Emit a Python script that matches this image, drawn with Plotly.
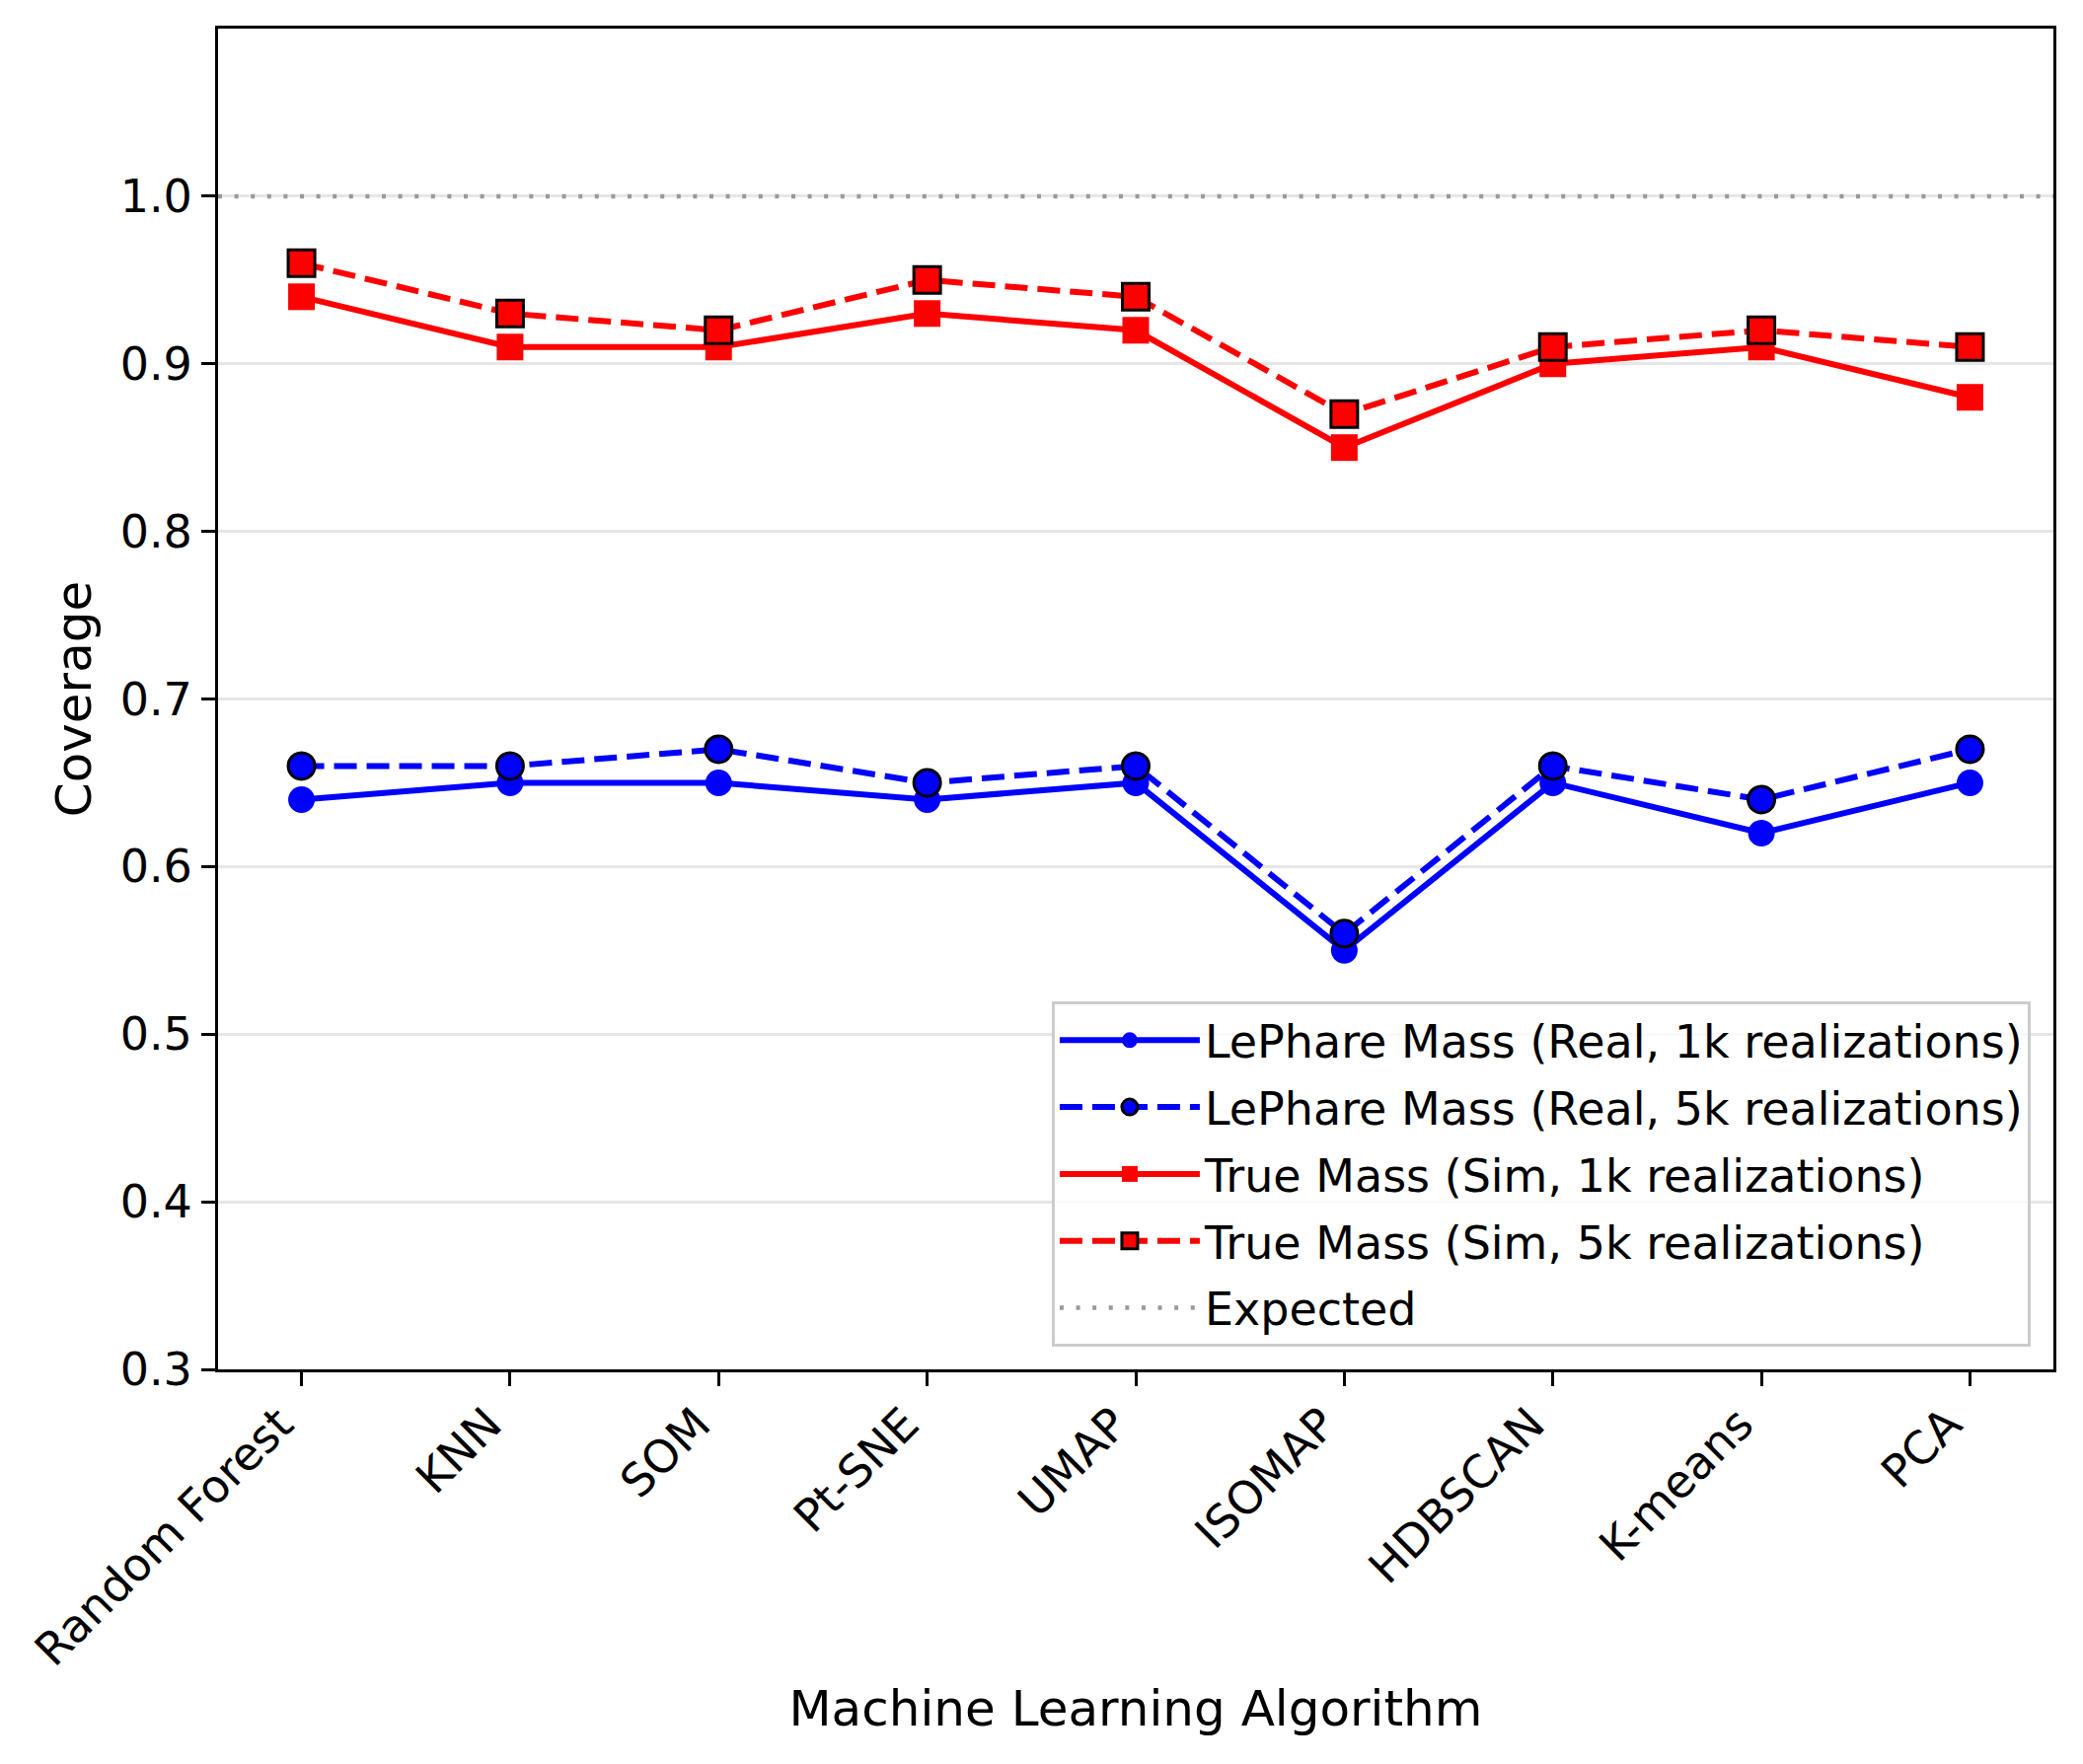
import plotly.graph_objects as go

# --- data ---
algorithms = ["Random Forest", "KNN", "SOM", "Pt-SNE", "UMAP",
              "ISOMAP", "HDBSCAN", "K-means", "PCA"]
lephare_1k = [0.64, 0.65, 0.65, 0.64, 0.65, 0.55, 0.65, 0.62, 0.65]
lephare_5k = [0.66, 0.66, 0.67, 0.65, 0.66, 0.56, 0.66, 0.64, 0.67]
true_1k = [0.94, 0.91, 0.91, 0.93, 0.92, 0.85, 0.90, 0.91, 0.88]
true_5k = [0.96, 0.93, 0.92, 0.95, 0.94, 0.87, 0.91, 0.92, 0.91]
expected = 1.0
y_ticks = [0.3, 0.4, 0.5, 0.6, 0.7, 0.8, 0.9, 1.0]

FONT = "DejaVu Sans"
FS = 46        # ticks / legend
FS_TITLE = 50  # axis titles
DASH = "23px,10px"

fig = go.Figure()


def add_series(y, name, color, symbol, dashed, group):
    fig.add_trace(go.Scatter(
        x=algorithms, y=y, name=name, mode="lines+markers",
        legendgroup=group,
        line=dict(color=color, width=6, dash=DASH if dashed else "solid"),
        marker=dict(symbol=symbol, size=27, color=color,
                    line=dict(color="black", width=3 if dashed else 0)),
    ))


add_series(lephare_1k, "LePhare Mass (Real, 1k realizations)", "blue", "circle", False, "a")
add_series(lephare_5k, "LePhare Mass (Real, 5k realizations)", "blue", "circle", True, "b")
add_series(true_1k, "True Mass (Sim, 1k realizations)", "red", "square", False, "c")
add_series(true_5k, "True Mass (Sim, 5k realizations)", "red", "square", True, "d")

# expected coverage line
fig.add_shape(type="line", xref="paper", x0=0, x1=1, y0=expected, y1=expected,
              line=dict(color="#999999", width=4.5, dash="4px,12.6px"),
              showlegend=True, name="Expected", legendgroup="e", legendrank=2000)

# page body has an 8px margin, so the figure is 8px smaller
fig.update_layout(
    width=2103, height=1780,
    margin=dict(l=213, r=30, t=21, b=400),
    paper_bgcolor="white", plot_bgcolor="white",
    font=dict(family=FONT, size=FS, color="black"),
    showlegend=True,
    legend=dict(
        x=0.9876, y=0.017, xanchor="right", yanchor="bottom",
        bgcolor="rgba(255,255,255,0.8)", bordercolor="#cccccc", borderwidth=3,
        font=dict(family=FONT, size=FS), tracegroupgap=5, itemwidth=142,
    ),
)

fig.update_xaxes(
    range=[-0.4, 8.4], tickangle=-45, ticks="outside", ticklen=14, tickwidth=3,
    tickcolor="black", showline=True, linecolor="black", linewidth=3, mirror=True,
    showgrid=False, zeroline=False, ticklabelshift=-22, ticklabelstandoff=-7,
    title=dict(text="Machine Learning Algorithm", font=dict(size=FS_TITLE), standoff=16),
)
fig.update_yaxes(
    range=[0.3, 1.1], tickvals=y_ticks, tickformat=".1f", ticks="outside",
    ticklen=14, tickwidth=3, tickcolor="black", showline=True, linecolor="black",
    linewidth=3, mirror=True, showgrid=True, gridcolor="#e6e6e6", gridwidth=3,
    zeroline=False,
    title=dict(text="Coverage", font=dict(size=FS_TITLE), standoff=14),
)

fig.write_html("out.html")
